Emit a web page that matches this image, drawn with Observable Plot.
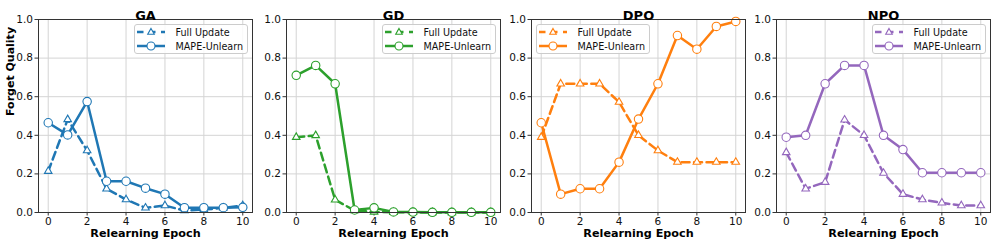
<!DOCTYPE html>
<html>
<head>
<meta charset="utf-8">
<script src="https://cdn.jsdelivr.net/npm/d3@7"></script>
<script src="https://cdn.jsdelivr.net/npm/@observablehq/plot@0.6"></script>
<style>
  html, body { margin: 0; padding: 0; background: #fff; }
  #root { position: relative; width: 997px; height: 246px; overflow: hidden; font-family: "DejaVu Sans", sans-serif; }
  .panel { position: absolute; top: 0; }
  .legend { position: absolute; display: block; }
</style>
</head>
<body>
<div id="root"></div>
<script>
// ---- data ----
const epochs = [0, 1, 2, 3, 4, 5, 6, 7, 8, 9, 10];
const methods = ["GA", "GD", "DPO", "NPO"];
const seriesNames = ["Full Update", "MAPE-Unlearn"];
const colors = ["#1f77b4", "#2ca02c", "#ff7f0e", "#9467bd"];

const gaFull = [0.214, 0.482, 0.321, 0.123, 0.067, 0.024, 0.036, 0.010, 0.015, 0.024, 0.036];
const gaMape = [0.465, 0.402, 0.575, 0.162, 0.162, 0.126, 0.095, 0.025, 0.025, 0.025, 0.027];
const gdFull = [0.390, 0.399, 0.066, 0.010, 0.003, 0.001, 0.001, 0.000, 0.000, 0.000, 0.000];
const gdMape = [0.711, 0.762, 0.667, 0.013, 0.024, 0.003, 0.002, 0.001, 0.001, 0.001, 0.001];
const dpoFull = [0.390, 0.667, 0.667, 0.667, 0.572, 0.400, 0.321, 0.261, 0.261, 0.261, 0.261];
const dpoMape = [0.465, 0.095, 0.123, 0.123, 0.261, 0.484, 0.667, 0.917, 0.846, 0.964, 0.990];
const npoFull = [0.311, 0.123, 0.157, 0.480, 0.400, 0.204, 0.095, 0.067, 0.050, 0.036, 0.036];
const npoMape = [0.390, 0.400, 0.667, 0.762, 0.762, 0.400, 0.326, 0.206, 0.206, 0.206, 0.206];

const fullSeries = [gaFull, gdFull, dpoFull, npoFull];
const mapeSeries = [gaMape, gdMape, dpoMape, npoMape];

const xTicks = [0, 2, 4, 6, 8, 10];
const yTicks = [0, 0.2, 0.4, 0.6, 0.8, 1.0];
const legendSide = ["right", "right", "left", "right"];
const xLabel = "Relearning Epoch";
const yLabel = "Forget Quality";

// ---- layout ----
const frameLefts = [38, 286, 531, 776];
const frameW = 214;
const mL = 38, mR = 6, mT = 19, mB = 34, H = 246;
const font = "DejaVu Sans";

const root = document.getElementById("root");
const ns = "http://www.w3.org/2000/svg";
function el(tag, attrs) {
  const e = document.createElementNS(ns, tag);
  for (const k in attrs) e.setAttribute(k, attrs[k]);
  return e;
}

methods.forEach((m, i) => {
  const color = colors[i];
  const full = epochs.map((e, j) => ({epoch: e, value: fullSeries[i][j]}));
  const mape = epochs.map((e, j) => ({epoch: e, value: mapeSeries[i][j]}));
  const marks = [
    Plot.gridX(xTicks, {stroke: "#d4d4d4", strokeOpacity: 1, strokeWidth: 1}),
    Plot.gridY(yTicks, {stroke: "#d4d4d4", strokeOpacity: 1, strokeWidth: 1}),
    Plot.axisX(xTicks, {tickSize: 3.5, tickPadding: 2, fontSize: 10.5, label: null, stroke: "#333"}),
    Plot.axisY(yTicks, {tickSize: 3.5, tickPadding: 2, fontSize: 10.5, label: null, tickFormat: d3.format(".1f"), stroke: "#333"}),
    Plot.line(full, {x: "epoch", y: "value", stroke: color, strokeWidth: 2.5, strokeDasharray: "8,4.5", strokeLinejoin: "round"}),
    Plot.dot(full, {x: "epoch", y: "value", symbol: "triangle", r: 2.8, fill: "white", stroke: color, strokeWidth: 1.1}),
    Plot.line(mape, {x: "epoch", y: "value", stroke: color, strokeWidth: 2.5, strokeLinejoin: "round"}),
    Plot.dot(mape, {x: "epoch", y: "value", symbol: "circle", r: 4.2, fill: "white", stroke: color, strokeWidth: 1.1}),
    Plot.frame({stroke: "#333", strokeWidth: 1}),
    Plot.text([m], {frameAnchor: "top", dy: -9, text: d => d, fontWeight: "bold", fontSize: 13, fill: "#000"}),
    Plot.text([xLabel], {frameAnchor: "bottom", dy: 24.5, text: d => d, fontWeight: "bold", fontSize: 11.2, fill: "#000"})
  ];
  if (i === 0) {
    marks.push(Plot.text([yLabel], {frameAnchor: "left", dx: -28, rotate: -90, text: d => d, fontWeight: "bold", fontSize: 11, fill: "#000"}));
  }
  const chart = Plot.plot({
    width: mL + frameW + mR,
    height: H,
    marginLeft: mL, marginRight: mR, marginTop: mT, marginBottom: mB,
    x: {domain: [-0.5, 10.5], axis: null},
    y: {domain: [0, 1], axis: null},
    style: {background: "transparent", overflow: "visible", fontFamily: font, fontSize: "10.5px", color: "#111"},
    marks
  });
  const wrap = document.createElement("div");
  wrap.className = "panel";
  wrap.style.left = (frameLefts[i] - mL) + "px";
  wrap.appendChild(chart);
  root.appendChild(wrap);

  // legend (inside the frame), drawn as a small SVG overlay
  const lw = 114, lh = 30;
  const s = el("svg", {width: lw, height: lh, class: "legend"});
  s.style.top = (mT + 4.5) + "px";
  s.style.left = (legendSide[i] === "right" ? frameLefts[i] + frameW - 4 - lw : frameLefts[i] + 5) + "px";
  s.appendChild(el("rect", {x: 0.5, y: 0.5, width: lw - 1, height: lh - 1, rx: 2.5, fill: "white", "fill-opacity": 0.85, stroke: "#cccccc", "stroke-width": 1}));
  seriesNames.forEach((name, k) => {
    const cy = k === 0 ? 8 : 22;
    const ln = el("line", {x1: 3, x2: 31, y1: cy, y2: cy, stroke: color, "stroke-width": 2.5});
    if (k === 0) ln.setAttribute("stroke-dasharray", "6.5,5.5");
    s.appendChild(ln);
    if (k === 0) {
      s.appendChild(el("path", {d: `M17,${cy - 3.6} L20.3,${cy + 2.2} L13.7,${cy + 2.2} Z`, fill: "white", stroke: color, "stroke-width": 1.1}));
    } else {
      s.appendChild(el("circle", {cx: 17, cy: cy, r: 4, fill: "white", stroke: color, "stroke-width": 1.1}));
    }
    const t = el("text", {x: 41.5, y: cy, "font-family": font, "font-size": 9.6, fill: "#111", "dominant-baseline": "central"});
    t.textContent = name;
    s.appendChild(t);
  });
  root.appendChild(s);
});
</script>
</body>
</html>
